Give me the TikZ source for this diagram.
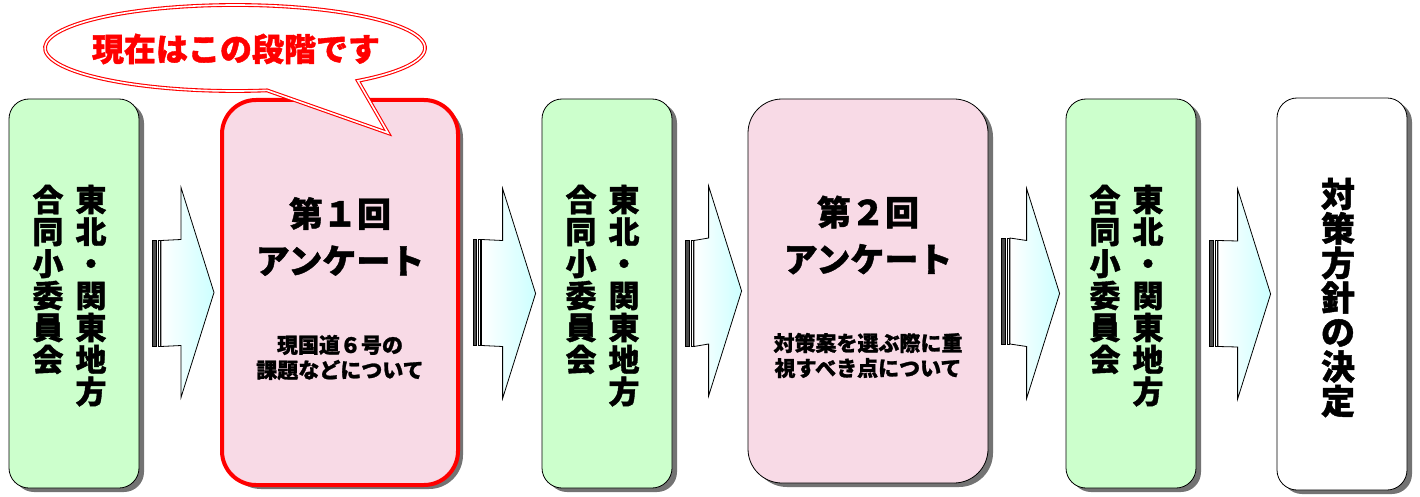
\documentclass[tikz,border=0pt]{standalone}
\usepackage{fontspec}
\setmainfont{Noto Sans CJK JP}[BoldFeatures={FakeBold=1.2}]
\usetikzlibrary{calc,shadows}

\definecolor{boxgreen}{RGB}{204,255,204}
\definecolor{boxpink}{RGB}{248,218,230}
\definecolor{arrowcyan}{RGB}{204,255,255}

\tikzset{
    roundbox/.style={draw=black, line width=0.8pt, rounded corners=20pt,
        minimum width=130pt, minimum height=389pt,
        drop shadow={shadow xshift=5pt, shadow yshift=-4pt, fill=black!55, opacity=1}},
    greenbox/.style={roundbox, fill=boxgreen},
    pinkbox/.style={roundbox, fill=boxpink, rounded corners=34pt, minimum width=240pt, minimum height=384pt},
    nowbox/.style={pinkbox, draw=red, line width=4pt, minimum width=236pt, minimum height=385pt},
    endbox/.style={roundbox, fill=white, minimum height=392pt},
    tatetxt/.style={anchor=north, inner sep=0pt, align=center, font=\bfseries\fontsize{31}{32}\selectfont},
    bigtxt/.style={inner sep=0pt, align=center, font=\bfseries\fontsize{34}{47}\selectfont},
    subtxt/.style={inner sep=0pt, align=center, font=\bfseries\fontsize{21}{25}\selectfont},
    arrowbody/.style={draw=black, line width=0.8pt, left color=white, right color=arrowcyan},
    calloutline/.style={draw=red, double=white, double distance=1.6pt, line width=1.1pt, fill=white}
}

% striped arrow from box #1 to box #2
\newcommand{\stripearrow}[2]{
        \coordinate (#1s) at ($(#1.east)+(13,0)$);
        \coordinate (#1t) at ($(#2.west)+(-6,0)$);
        \draw [fill=black!70, line width=0.6pt] ($(#1s)+(0,-53)$) rectangle ($(#1s)+(3.5,53)$);
        \draw [fill=white, line width=0.6pt] ($(#1s)+(5.5,-53)$) rectangle ($(#1s)+(7.5,53)$);
        \draw [arrowbody] ($(#1s)+(8.5,-53)$) -- ($(#1t)+(-33,-53)$) -- ++(0,-52) -- (#1t)
            -- ($(#1t)+(-33,105)$) -- ++(0,-52) -- ($(#1s)+(8.5,53)$) -- cycle;
}

\begin{document}
\begin{tikzpicture}[x=1pt, y=-1pt]
        \useasboundingbox (0,0) rectangle (1420,497);

        % Joint committee
        \node (g1) at (74,293.5) [greenbox] {};
        \node (g1a) at ($(g1.north)+(17,86)$) [tatetxt] {東\\北\\・\\関\\東\\地\\方};
        \node (g1b) at ($(g1.north)+(-26,86)$) [tatetxt] {合\\同\\小\\委\\員\\会};

        % First survey
        \node (p1) at ($(g1)+(266,-1)$) [nowbox] {};
        \node (p1t) at ($(p1)+(0,-56)$) [bigtxt] {第１回\\アンケート};
        \node (p1s) at ($(p1)+(0,65)$) [subtxt] {現国道６号の\\課題などについて};

        % Joint committee
        \node (g2) at ($(p1)+(267,1)$) [greenbox] {};
        \node (g2a) at ($(g2.north)+(17,86)$) [tatetxt] {東\\北\\・\\関\\東\\地\\方};
        \node (g2b) at ($(g2.north)+(-26,86)$) [tatetxt] {合\\同\\小\\委\\員\\会};

        % Second survey
        \node (p2) at ($(g2)+(261,-2.5)$) [pinkbox] {};
        \node (p2t) at ($(p2)+(0,-56)$) [bigtxt] {第２回\\アンケート};
        \node (p2s) at ($(p2)+(0,64.5)$) [subtxt] {対策案を選ぶ際に重\\視すべき点について};

        % Joint committee
        \node (g3) at ($(p2)+(263,2.5)$) [greenbox] {};
        \node (g3a) at ($(g3.north)+(17,86)$) [tatetxt] {東\\北\\・\\関\\東\\地\\方};
        \node (g3b) at ($(g3.north)+(-26,86)$) [tatetxt] {合\\同\\小\\委\\員\\会};

        % Decision
        \node (w) at ($(g3)+(211,0.5)$) [endbox] {};
        \node (wt) at ($(w.north)+(-4,80)$) [tatetxt, font=\bfseries\fontsize{34}{34.5}\selectfont] {対\\策\\方\\針\\の\\決\\定};

        % Arrows
        \stripearrow{g1}{p1}
        \stripearrow{p1}{g2}
        \stripearrow{g2}{p2}
        \stripearrow{p2}{g3}
        \stripearrow{g3}{w}

        % Callout
        \coordinate (callc) at (235,48);
        \coordinate (calltip) at (388,133);
        \draw [calloutline] ($(callc)+(80.3:190 and 43)$)
            arc [start angle=80.3, end angle=409.7, x radius=190, y radius=43] -- (calltip) -- cycle;
        \node (nowtxt) at ($(callc)+(1,1)$) [red, inner sep=0pt, font=\bfseries\fontsize{32}{32}\selectfont] {現在はこの段階です};

\end{tikzpicture}
\end{document}
